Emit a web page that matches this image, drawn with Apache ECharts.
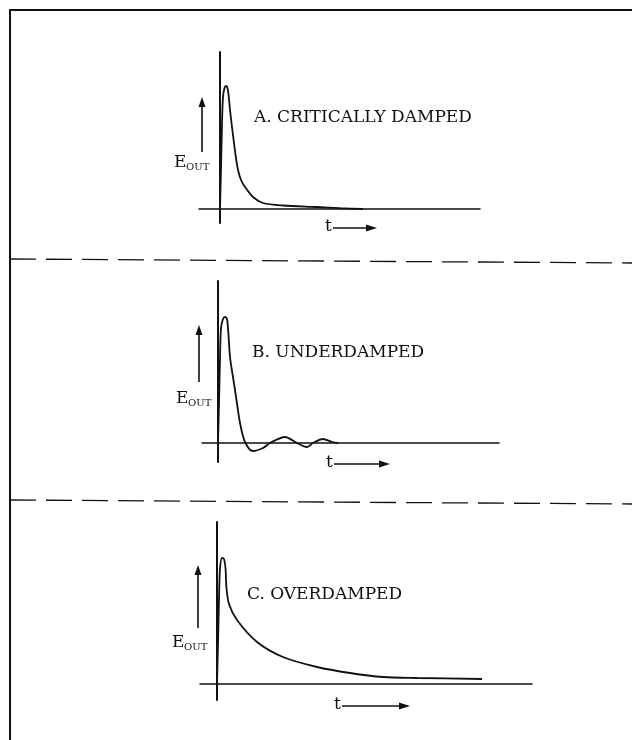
<!DOCTYPE html>
<html>
<head>
<meta charset="utf-8">
<script src="https://cdn.jsdelivr.net/npm/echarts@6/dist/echarts.min.js"></script>
<style>
  html, body { margin: 0; padding: 0; background: #fff; }
  #chart { width: 632px; height: 740px; }
</style>
</head>
<body>
<div id="chart"></div>
<script>
// panel titles
const panelLabels = ['A. CRITICALLY DAMPED', 'B. UNDERDAMPED', 'C. OVERDAMPED']

// A. critically damped response (t, E_out)
const critT = [0, 0.1, 0.2, 0.3, 0.45, 0.6, 0.75, 0.9, 1.0, 1.2, 1.4, 1.6, 1.8, 2.1, 2.5, 3.3, 4.3, 6.3, 9.7, 12, 14.3]
const critE = [0, 4, 8.5, 11.2, 12.1, 12.3, 12.1, 11.0, 9.9, 8.2, 6.6, 5.1, 3.9, 2.9, 2.2, 1.2, 0.6, 0.35, 0.2, 0.08, 0]

// B. underdamped response
const underT = [0, 0.1, 0.2, 0.3, 0.5, 0.7, 0.9, 1.05, 1.2, 1.45, 1.7, 1.95, 2.2, 2.7, 3.5, 4.5, 5.2, 6.7, 7.9, 8.9, 9.5, 10.5, 11.4, 12]
const underE = [0, 4, 8.5, 11.5, 12.4, 12.6, 12.4, 10.8, 8.6, 6.9, 5.3, 3.6, 2.0, 0.1, -0.8, -0.5, 0, 0.6, 0, -0.4, 0, 0.4, 0.1, 0]

// C. overdamped response
const overT = [0, 0.1, 0.2, 0.3, 0.5, 0.7, 0.85, 0.95, 1.2, 2.0, 4.0, 6.6, 10, 13.3, 16.6, 20, 26.5]
const overE = [0, 4, 8.5, 11.5, 12.6, 12.5, 11.6, 9.6, 8.0, 6.4, 4.2, 2.7, 1.7, 1.1, 0.7, 0.6, 0.5]

const zip = (xs, ys) => xs.map((x, i) => [x, ys[i]])

const chart = echarts.init(document.getElementById('chart'))

const ink = '#111'
const serif = '"DejaVu Serif", "Liberation Serif", serif'

// panel boxes: grid + axis ranges (10px per unit)
const panels = [
  { left: 199, top: 52, width: 281, height: 171, xMin: -2.1, xMax: 26, yMin: -1.4, yMax: 15.7 },
  { left: 202, top: 281, width: 297, height: 181, xMin: -1.6, xMax: 28.1, yMin: -1.9, yMax: 16.2 },
  { left: 200, top: 522, width: 332, height: 178, xMin: -1.7, xMax: 31.5, yMin: -1.6, yMax: 16.2 }
]

const axisCommon = {
  type: 'value',
  axisTick: { show: false },
  axisLabel: { show: false },
  splitLine: { show: false }
}

const lineSeries = (data, i) => ({
  type: 'line',
  xAxisIndex: i,
  yAxisIndex: i,
  data: data,
  showSymbol: false,
  smooth: 0.3,
  lineStyle: { color: ink, width: 1.8 },
  silent: true
})

// decorations: arrows and labels
const upArrow = (x, tip, bottom) => [
  { type: 'line', shape: { x1: x, y1: bottom, x2: x, y2: tip + 8 }, style: { stroke: ink, lineWidth: 1.6 } },
  { type: 'polygon', shape: { points: [[x, tip], [x - 3.5, tip + 10], [x + 3.5, tip + 10]] }, style: { fill: ink } }
]
const tArrow = (x, y, end) => [
  { type: 'text', x: x, y: y, style: { text: 't', font: '17px ' + serif, fill: ink, verticalAlign: 'middle' } },
  { type: 'line', shape: { x1: x + 8, y1: y + 1, x2: end - 8, y2: y + 1 }, style: { stroke: ink, lineWidth: 1.5 } },
  { type: 'polygon', shape: { points: [[end, y + 1], [end - 11, y - 2.5], [end - 11, y + 4.5]] }, style: { fill: ink } }
]
const eOut = (x, base) => [
  { type: 'text', x: x, y: base, style: { text: 'E', font: '17px ' + serif, fill: ink, verticalAlign: 'bottom' } },
  { type: 'text', x: x + 12, y: base + 1, style: { text: 'OUT', font: '10px ' + serif, fill: ink, verticalAlign: 'bottom' } }
]
const title = (x, y, text) => ({
  type: 'text', x: x, y: y, style: { text: text, font: '17px ' + serif, fill: ink, verticalAlign: 'middle' }
})

const graphics = [
  // outer frame (top and left edges)
  { type: 'polyline', shape: { points: [[10, 740], [10, 10], [632, 10]] }, style: { stroke: ink, lineWidth: 2, fill: null } },
  // dashed separators
  { type: 'line', shape: { x1: 10, y1: 259, x2: 632, y2: 263 }, style: { stroke: ink, lineWidth: 1.3, lineDash: [26, 10] } },
  { type: 'line', shape: { x1: 10, y1: 500, x2: 632, y2: 504 }, style: { stroke: ink, lineWidth: 1.3, lineDash: [26, 10] } },

  title(254, 118, panelLabels[0]),
  ...upArrow(202, 97, 152),
  ...eOut(174, 171),
  ...tArrow(325, 227, 377),

  title(252, 353, panelLabels[1]),
  ...upArrow(199, 325, 382),
  ...eOut(176, 407),
  ...tArrow(326, 463, 390),

  title(247, 595, panelLabels[2]),
  ...upArrow(198, 565, 628),
  ...eOut(172, 651),
  ...tArrow(334, 705, 410)
]

const option = {
  backgroundColor: '#fff',
  animation: false,
  grid: panels.map(p => ({
    left: p.left, top: p.top, width: p.width, height: p.height,
    outerBoundsMode: 'none', containLabel: false
  })),
  xAxis: panels.map((p, i) => ({
    ...axisCommon,
    gridIndex: i,
    min: p.xMin,
    max: p.xMax,
    axisLine: { show: true, onZero: true, lineStyle: { color: ink, width: 1.5 } }
  })),
  yAxis: panels.map((p, i) => ({
    ...axisCommon,
    gridIndex: i,
    min: p.yMin,
    max: p.yMax,
    axisLine: { show: true, onZero: true, lineStyle: { color: ink, width: 2 } }
  })),
  series: [
    lineSeries(zip(critT, critE), 0),
    lineSeries(zip(underT, underE), 1),
    lineSeries(zip(overT, overE), 2)
  ],
  graphic: graphics
}

chart.setOption(option)
</script>
</body>
</html>
